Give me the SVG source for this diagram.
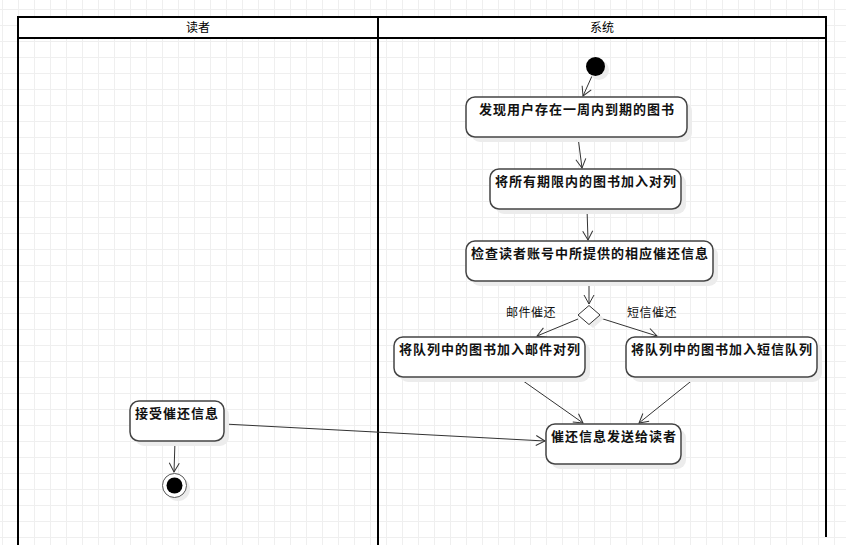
<svg xmlns="http://www.w3.org/2000/svg" width="846" height="545" viewBox="0 0 846 545">
  <defs>
    <pattern id="grid" x="2" y="9" width="16" height="16" patternUnits="userSpaceOnUse">
      <rect x="0" y="0" width="16" height="1" fill="#efefef"/>
      <rect x="0" y="0" width="1" height="16" fill="#efefef"/>
    </pattern>
    <marker id="open" markerWidth="12" markerHeight="12" refX="10" refY="6" orient="auto" markerUnits="userSpaceOnUse">
      <path d="M1,1 L10,6 L1,11" fill="none" stroke="#333" stroke-width="1"/>
    </marker>
  </defs>
  <style>
    .lane { fill: none; stroke: #000; stroke-width: 2; }
    .head { font-family: "Noto Sans CJK SC", "Liberation Sans", sans-serif; font-size: 12px; fill: #000; text-anchor: middle; }
    .act { fill: #fff; stroke: #444; stroke-width: 1.5; }
    .shadow { fill: #ececec; }
    .lbl { font-family: "Noto Sans CJK SC", "Liberation Sans", sans-serif; font-size: 13px; font-weight: bold; fill: #111; text-anchor: middle; letter-spacing: 1px; }
    .guard { font-family: "Noto Sans CJK SC", "Liberation Sans", sans-serif; font-size: 12px; fill: #111; text-anchor: middle; letter-spacing: 0.5px; }
    .edge { fill: none; stroke: #333; stroke-width: 1; marker-end: url(#open); }
  </style>

  <rect width="846" height="545" fill="#fff"/>
  <rect width="846" height="545" fill="url(#grid)"/>

  <!-- swimlanes -->
  <g id="swimlanes">
    <rect x="18" y="17" width="808" height="21" fill="#fff"/>
    <path class="lane" d="M18,546 V17 H826 V537 M18,38 H826 M378,17 V546"/>
    <text class="head" x="198" y="32">读者</text>
    <text class="head" x="602" y="32">系统</text>
  </g>

  <!-- connectors -->
  <g id="connectors">
    <line class="edge" x1="592" y1="76" x2="583" y2="96"/>
    <line class="edge" x1="578" y1="137" x2="582" y2="168"/>
    <line class="edge" x1="587" y1="209" x2="588" y2="240"/>
    <line class="edge" x1="589" y1="281" x2="589" y2="304"/>
    <line class="edge" x1="578" y1="319" x2="537" y2="336"/>
    <line class="edge" x1="600" y1="318" x2="657" y2="336"/>
    <line class="edge" x1="519" y1="378" x2="583" y2="423"/>
    <line class="edge" x1="695" y1="378" x2="639" y2="423"/>
    <line class="edge" x1="224" y1="424" x2="545" y2="441"/>
    <line class="edge" x1="175" y1="441" x2="174" y2="472"/>
    <text class="guard" x="531" y="317">邮件催还</text>
    <text class="guard" x="652" y="317">短信催还</text>
  </g>

  <!-- initial node -->
  <g id="start">
    <circle class="shadow" cx="599" cy="70" r="10"/>
    <circle cx="595.5" cy="66.5" r="9.5" fill="#000"/>
  </g>

  <g id="find-due">
    <rect class="shadow" x="471" y="102" width="221" height="40" rx="9"/>
    <rect class="act" x="466" y="97" width="221" height="40" rx="9"/>
    <text class="lbl" x="577" y="114">发现用户存在一周内到期的图书</text>
  </g>

  <g id="enqueue-all">
    <rect class="shadow" x="495" y="174" width="191" height="40" rx="9"/>
    <rect class="act" x="490" y="169" width="191" height="40" rx="9"/>
    <text class="lbl" x="586" y="186">将所有期限内的图书加入对列</text>
  </g>

  <g id="check-account">
    <rect class="shadow" x="471" y="246" width="247" height="40" rx="9"/>
    <rect class="act" x="466" y="241" width="247" height="40" rx="9"/>
    <text class="lbl" x="590" y="258">检查读者账号中所提供的相应催还信息</text>
  </g>

  <g id="decision">
    <path class="shadow" d="M593,309 L604,318.5 L593,328 L582,318.5 Z"/>
    <path d="M589,305.5 L600,315 L589,324.5 L578,315 Z" fill="#fff" stroke="#333" stroke-width="1"/>
  </g>

  <g id="mail-queue">
    <rect class="shadow" x="399" y="342" width="191" height="40" rx="9"/>
    <rect class="act" x="394" y="337" width="191" height="40" rx="9"/>
    <text class="lbl" x="490" y="354">将队列中的图书加入邮件对列</text>
  </g>

  <g id="sms-queue">
    <rect class="shadow" x="631" y="342" width="191" height="40" rx="9"/>
    <rect class="act" x="626" y="337" width="191" height="40" rx="9"/>
    <text class="lbl" x="722" y="354">将队列中的图书加入短信队列</text>
  </g>

  <g id="send-notice">
    <rect class="shadow" x="551" y="429" width="135" height="40" rx="9"/>
    <rect class="act" x="546" y="424" width="135" height="40" rx="9"/>
    <text class="lbl" x="614" y="441">催还信息发送给读者</text>
  </g>

  <g id="receive-notice">
    <rect class="shadow" x="135" y="406" width="94" height="40" rx="9"/>
    <rect class="act" x="130" y="401" width="94" height="40" rx="9"/>
    <text class="lbl" x="177" y="418">接受催还信息</text>
  </g>

  <!-- final node -->
  <g id="end">
    <circle class="shadow" cx="178" cy="489" r="12"/>
    <circle cx="174.5" cy="485.5" r="12" fill="#fff" stroke="#555" stroke-width="1"/>
    <circle cx="174.5" cy="485.5" r="8" fill="#000"/>
  </g>
</svg>
